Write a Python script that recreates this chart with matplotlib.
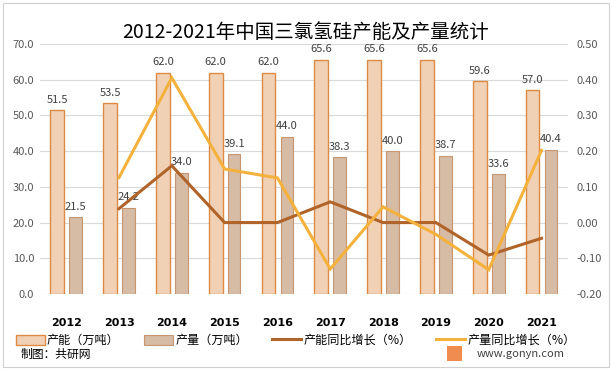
import numpy as np
import matplotlib
matplotlib.use("Agg")
from matplotlib import pyplot as plt
from matplotlib.patches import Rectangle

plt.rcParams['font.family'] = ['Noto Sans CJK SC', 'DejaVu Sans']

# данные
years = ['2012', '2013', '2014', '2015', '2016', '2017', '2018', '2019', '2020', '2021']
capacity = [51.5, 53.5, 62.0, 62.0, 62.0, 65.6, 65.6, 65.6, 59.6, 57.0]
output = [21.5, 24.2, 34.0, 39.1, 44.0, 38.3, 40.0, 38.7, 33.6, 40.4]
cap_growth = [None, 0.039, 0.159, 0.0, 0.0, 0.058, 0.0, 0.0, -0.091, -0.044]
out_growth = [None, 0.126, 0.405, 0.150, 0.125, -0.130, 0.044, -0.033, -0.132, 0.202]

c_cap, c_cap_edge = '#F1D1B6', '#DD8A45'
c_out, c_out_edge = '#D6BBA5', '#C8966E'
c_cap_line = '#B0642A'
c_out_line = '#F4B13C'

fig = plt.figure(figsize=(6.12, 3.71), dpi=100)
fig.patches.append(Rectangle((0.005, 0.012), 0.99, 0.98, transform=fig.transFigure,
                             fill=False, edgecolor='#D0D0D0', linewidth=0.8))
ax1 = fig.add_axes([0.065, 0.2075, 0.863, 0.674])
ax2 = ax1.twinx()

x = np.arange(len(years))
b1 = ax1.bar(x - 0.17, capacity, width=0.26, color=c_cap, edgecolor=c_cap_edge, linewidth=1.0,
             label='产能（万吨）', zorder=2)
b2 = ax1.bar(x + 0.18, output, width=0.24, color=c_out, edgecolor=c_out_edge, linewidth=0.8,
             label='产量（万吨）', zorder=2)
for i in range(len(years)):
    ax1.text(x[i] - 0.17, capacity[i] + 1.5, '%.1f' % capacity[i], ha='center', va='bottom',
             fontsize=8, color='#404040')
    ax1.text(x[i] + 0.18, output[i] + 1.5, '%.1f' % output[i], ha='center', va='bottom',
             fontsize=8, color='#404040')

ax1.set_ylim(0, 70)
ax1.set_yticks(np.arange(0, 71, 10))
ax1.set_yticklabels(['%.1f' % v for v in np.arange(0, 71, 10)])
ax1.set_xlim(-0.5, len(years) - 0.5)
ax1.set_xticks(x)
ax1.set_xticklabels(years, fontweight='bold', fontsize=8, family='DejaVu Sans')
ax1.grid(axis='y', color='#D9D9D9', linewidth=0.8, zorder=0)
ax1.set_axisbelow(True)

xs = x[1:]
l1, = ax2.plot(xs, cap_growth[1:], color=c_cap_line, linewidth=2.2, label='产能同比增长（%）',
               solid_joinstyle='miter')
l2, = ax2.plot(xs, out_growth[1:], color=c_out_line, linewidth=2.2, label='产量同比增长（%）',
               solid_joinstyle='miter')
ax2.set_ylim(-0.2, 0.5)
ticks2 = np.arange(-0.2, 0.51, 0.1)
ax2.set_yticks(ticks2)
ax2.set_yticklabels(['%.2f' % v for v in ticks2])

for a in (ax1, ax2):
    for s in a.spines.values():
        s.set_visible(False)
    a.tick_params(length=0, labelsize=8, labelcolor='#595959')
ax1.tick_params(axis='x', labelcolor='black', pad=17)
ax1.tick_params(axis='y', pad=4)
ax2.tick_params(axis='y', pad=6)

fig.text(0.5, 0.912, '2012-2021年中国三氯氢硅产能及产量统计', ha='center', va='center',
         fontsize=14, color='black')

fig.legend(handles=[b1, b2, l1, l2], loc='center', bbox_to_anchor=(0.483, 0.083), ncol=4,
           frameon=False, fontsize=8.7, handlelength=2.4, handleheight=0.9,
           columnspacing=2.0, handletextpad=0.2)

fig.text(0.033, 0.045, '制图：共研网', ha='left', va='center', fontsize=8.5, color='black')
fig.text(0.923, 0.045, 'www.gonyn.com', ha='right', va='center', fontsize=8, color='#404040')
fig.patches.append(Rectangle((0.731, 0.028), 0.024, 0.04, transform=fig.transFigure,
                             facecolor='#F08C50', edgecolor='none'))

fig.savefig('out.png', dpi=100)
